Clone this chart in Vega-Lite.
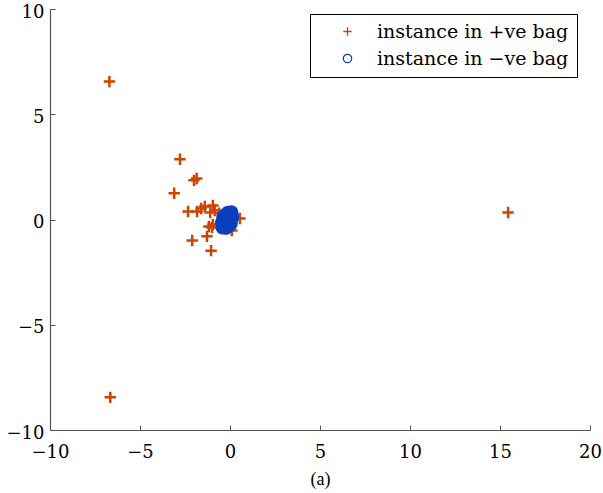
{
  "$schema": "https://vega.github.io/schema/vega-lite/v6.json",
  "width": 540,
  "height": 421,
  "autosize": "none",
  "padding": {"left": 50, "top": 9, "right": 13, "bottom": 63},
  "background": "white",
  "config": {"view": {"stroke": null}, "font": "DejaVu Serif"},
  "data": {
    "values": [
      {"x": -6.7, "y": 6.55, "bag": "instance in +ve bag"},
      {"x": -6.65, "y": -8.45, "bag": "instance in +ve bag"},
      {"x": 15.45, "y": 0.33, "bag": "instance in +ve bag"},
      {"x": -2.78, "y": 2.86, "bag": "instance in +ve bag"},
      {"x": -2.0, "y": 1.86, "bag": "instance in +ve bag"},
      {"x": -1.85, "y": 1.95, "bag": "instance in +ve bag"},
      {"x": -3.1, "y": 1.25, "bag": "instance in +ve bag"},
      {"x": -2.33, "y": 0.38, "bag": "instance in +ve bag"},
      {"x": -1.83, "y": 0.38, "bag": "instance in +ve bag"},
      {"x": -1.6, "y": 0.52, "bag": "instance in +ve bag"},
      {"x": -1.4, "y": 0.62, "bag": "instance in +ve bag"},
      {"x": -0.95, "y": 0.67, "bag": "instance in +ve bag"},
      {"x": -0.85, "y": 0.43, "bag": "instance in +ve bag"},
      {"x": -1.1, "y": 0.33, "bag": "instance in +ve bag"},
      {"x": -1.17, "y": -0.33, "bag": "instance in +ve bag"},
      {"x": -1.0, "y": -0.38, "bag": "instance in +ve bag"},
      {"x": -0.95, "y": -0.24, "bag": "instance in +ve bag"},
      {"x": -1.28, "y": -0.8, "bag": "instance in +ve bag"},
      {"x": -2.1, "y": -1.0, "bag": "instance in +ve bag"},
      {"x": -1.05, "y": -1.48, "bag": "instance in +ve bag"},
      {"x": 0.55, "y": 0.05, "bag": "instance in +ve bag"},
      {"x": 0.1, "y": -0.52, "bag": "instance in +ve bag"},
      {"x": -0.1, "y": -0.43, "bag": "instance in +ve bag"},
      {"x": -0.6, "y": 0.3, "bag": "instance in +ve bag"},
      {"x": -0.5, "y": -0.2, "bag": "instance in +ve bag"},
      {"x": -0.4, "y": -0.3, "bag": "instance in −ve bag"},
      {"x": -0.3, "y": -0.2, "bag": "instance in −ve bag"},
      {"x": -0.2, "y": -0.1, "bag": "instance in −ve bag"},
      {"x": -0.1, "y": 0.0, "bag": "instance in −ve bag"},
      {"x": 0.0, "y": 0.1, "bag": "instance in −ve bag"},
      {"x": 0.1, "y": 0.2, "bag": "instance in −ve bag"},
      {"x": 0.05, "y": 0.3, "bag": "instance in −ve bag"},
      {"x": -0.05, "y": 0.25, "bag": "instance in −ve bag"},
      {"x": -0.15, "y": 0.15, "bag": "instance in −ve bag"},
      {"x": -0.25, "y": 0.05, "bag": "instance in −ve bag"},
      {"x": -0.35, "y": -0.05, "bag": "instance in −ve bag"},
      {"x": -0.45, "y": -0.15, "bag": "instance in −ve bag"},
      {"x": -0.3, "y": -0.35, "bag": "instance in −ve bag"},
      {"x": -0.2, "y": -0.25, "bag": "instance in −ve bag"},
      {"x": -0.1, "y": -0.15, "bag": "instance in −ve bag"},
      {"x": 0.0, "y": -0.05, "bag": "instance in −ve bag"},
      {"x": 0.1, "y": 0.05, "bag": "instance in −ve bag"},
      {"x": 0.08, "y": 0.35, "bag": "instance in −ve bag"},
      {"x": -0.12, "y": 0.32, "bag": "instance in −ve bag"},
      {"x": -0.28, "y": 0.2, "bag": "instance in −ve bag"},
      {"x": -0.38, "y": 0.1, "bag": "instance in −ve bag"},
      {"x": -0.42, "y": -0.38, "bag": "instance in −ve bag"},
      {"x": -0.22, "y": -0.38, "bag": "instance in −ve bag"},
      {"x": -0.05, "y": -0.3, "bag": "instance in −ve bag"},
      {"x": 0.05, "y": -0.2, "bag": "instance in −ve bag"},
      {"x": -0.18, "y": 0.0, "bag": "instance in −ve bag"},
      {"x": -0.32, "y": -0.12, "bag": "instance in −ve bag"},
      {"x": 0.12, "y": 0.12, "bag": "instance in −ve bag"},
      {"x": -0.08, "y": 0.08, "bag": "instance in −ve bag"},
      {"x": -0.25, "y": -0.4, "bag": "instance in −ve bag"}
    ]
  },
  "mark": {"type": "point", "filled": false, "strokeWidth": 2.5, "opacity": 1, "size": 130},
  "encoding": {
    "x": {
      "field": "x", "type": "quantitative",
      "scale": {"domain": [-10, 20], "nice": false, "zero": false},
      "axis": {
        "values": [-10, -5, 0, 5, 10, 15, 20],
        "title": "(a)", "titleFont": "Liberation Serif", "titleFontSize": 18, "titleFontWeight": "normal", "titleColor": "black", "titlePadding": 9,
        "grid": false, "labelFlush": false, "labelOverlap": false, "labelBound": false,
        "labelFont": "DejaVu Serif", "labelFontSize": 18, "labelColor": "black", "labelPadding": 18,
        "domainColor": "#555", "tickColor": "#555", "tickSize": -5, "domainWidth": 1.2
      }
    },
    "y": {
      "field": "y", "type": "quantitative",
      "scale": {"domain": [-10, 10], "nice": false, "zero": false},
      "axis": {
        "values": [-10, -5, 0, 5, 10],
        "title": null,
        "grid": false, "labelFlush": false, "labelOverlap": false, "labelBound": false,
        "labelFont": "DejaVu Serif", "labelFontSize": 18, "labelColor": "black", "labelPadding": 11, "labelOffset": 3,
        "domainColor": "#555", "tickColor": "#555", "tickSize": -5, "domainWidth": 1.2
      }
    },
    "color": {
      "field": "bag", "type": "nominal",
      "scale": {"domain": ["instance in +ve bag", "instance in −ve bag"], "range": ["#cc4400", "#0a3fbf"]},
      "legend": {
        "orient": "none", "legendX": 260, "legendY": 5, "title": null,
        "strokeColor": "black", "fillColor": "white", "padding": 8,
        "labelFont": "DejaVu Serif", "labelFontSize": 19, "labelColor": "black", "labelLimit": 400,
        "symbolSize": 70, "symbolStrokeWidth": 1.3, "symbolOffset": 20, "labelOffset": 20, "rowPadding": 7
      }
    },
    "shape": {
      "field": "bag", "type": "nominal",
      "scale": {"domain": ["instance in +ve bag", "instance in −ve bag"], "range": ["M-1,0H1M0,-1V1", "circle"]}
    }
  }
}
